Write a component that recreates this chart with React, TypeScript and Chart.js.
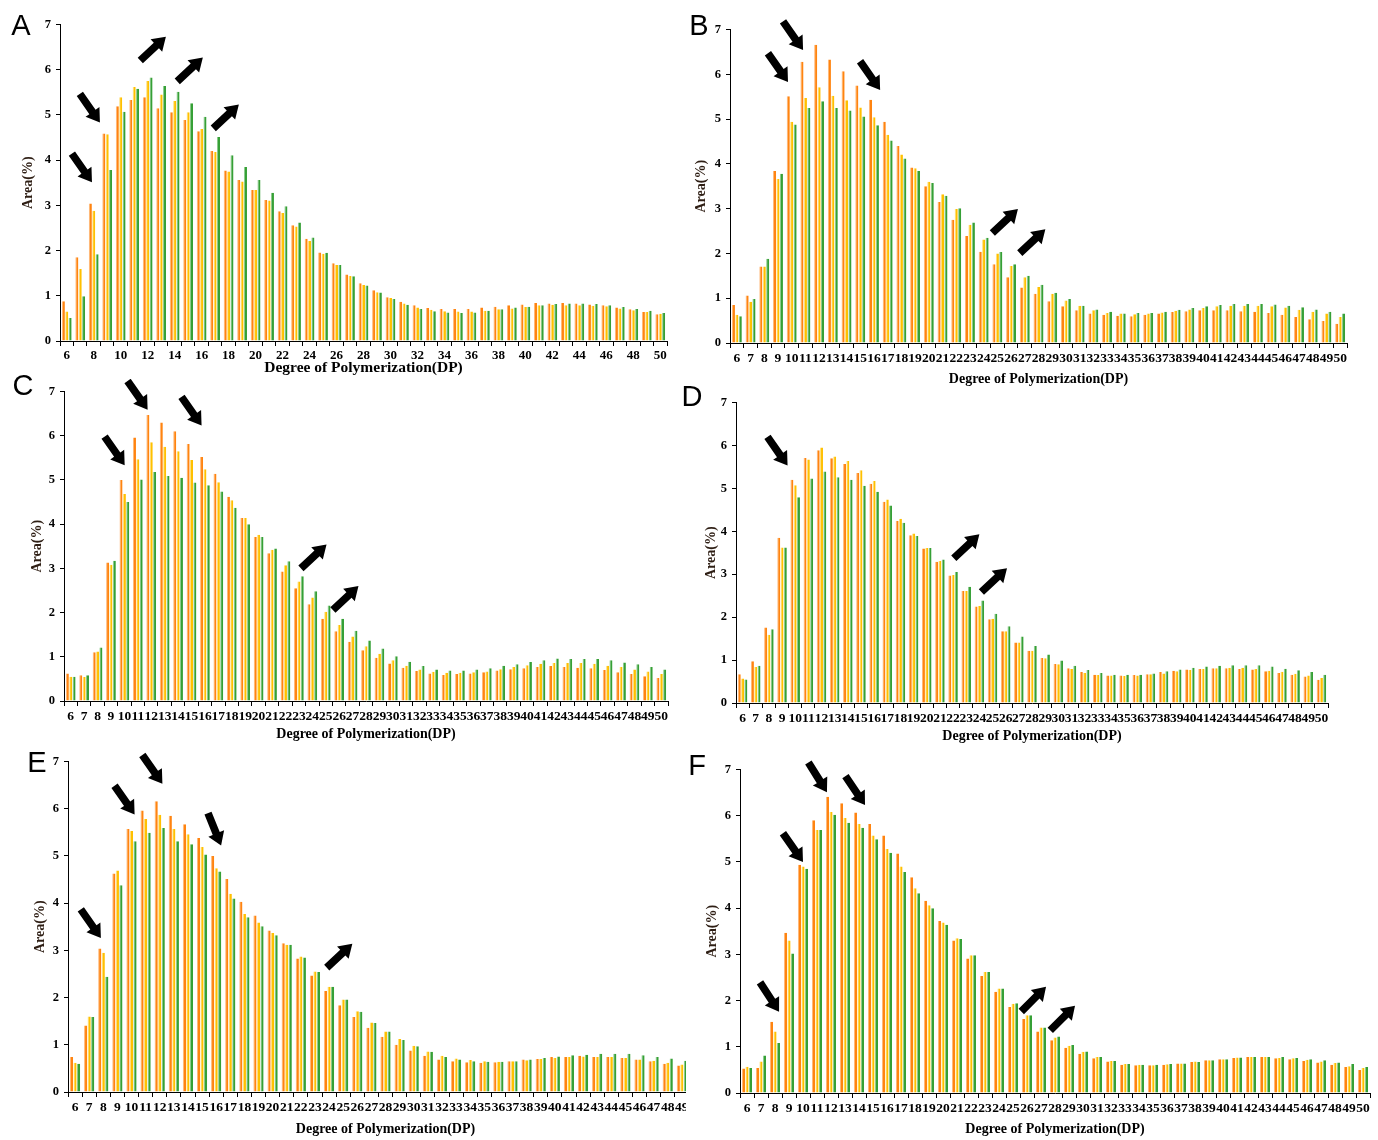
import React, { useEffect, useRef } from 'react';
import { Chart, registerables } from 'chart.js';

Chart.register(...registerables);

const dpLabels = ['6','7','8','9','10','11','12','13','14','15','16','17','18','19','20','21','22','23','24','25','26','27','28','29','30','31','32','33','34','35','36','37','38','39','40','41','42','43','44','45','46','47','48','49','50'];

const A_orange = [0.88,1.85,3.04,4.59,5.19,5.33,5.39,5.15,5.06,4.89,4.64,4.20,3.77,3.56,3.34,3.12,2.87,2.56,2.26,1.96,1.72,1.47,1.28,1.12,0.97,0.87,0.79,0.73,0.71,0.71,0.71,0.74,0.76,0.79,0.81,0.84,0.83,0.84,0.83,0.81,0.79,0.74,0.70,0.64,0.59];
const A_yellow = [0.65,1.59,2.88,4.57,5.39,5.62,5.75,5.45,5.31,5.06,4.69,4.18,3.75,3.53,3.34,3.11,2.83,2.53,2.21,1.93,1.68,1.44,1.24,1.08,0.95,0.83,0.74,0.69,0.66,0.65,0.65,0.67,0.70,0.72,0.75,0.79,0.80,0.79,0.79,0.78,0.77,0.72,0.68,0.64,0.60];
const A_green = [0.51,0.99,1.92,3.78,5.07,5.58,5.83,5.64,5.51,5.26,4.96,4.51,4.11,3.85,3.56,3.28,2.98,2.62,2.29,1.95,1.68,1.43,1.23,1.07,0.93,0.80,0.71,0.66,0.63,0.62,0.63,0.67,0.70,0.74,0.76,0.79,0.82,0.83,0.83,0.82,0.79,0.75,0.71,0.67,0.62];

const B_orange = [0.85,1.06,1.71,3.84,5.51,6.28,6.66,6.33,6.07,5.75,5.43,4.94,4.40,3.92,3.50,3.15,2.75,2.39,2.04,1.76,1.47,1.24,1.10,0.93,0.82,0.73,0.66,0.63,0.61,0.60,0.63,0.66,0.69,0.71,0.73,0.73,0.73,0.71,0.70,0.67,0.63,0.58,0.53,0.49,0.43];
const B_yellow = [0.63,0.92,1.71,3.66,4.94,5.47,5.71,5.52,5.42,5.26,5.04,4.65,4.21,3.90,3.60,3.32,2.99,2.64,2.31,2.00,1.72,1.47,1.25,1.10,0.95,0.83,0.73,0.67,0.66,0.64,0.66,0.68,0.72,0.75,0.78,0.82,0.83,0.83,0.83,0.82,0.79,0.74,0.70,0.66,0.58];
const B_green = [0.60,0.98,1.88,3.78,4.88,5.25,5.40,5.25,5.19,5.06,4.86,4.52,4.12,3.84,3.57,3.29,3.01,2.69,2.35,2.03,1.76,1.50,1.30,1.12,0.98,0.83,0.75,0.70,0.66,0.67,0.67,0.70,0.74,0.78,0.82,0.85,0.87,0.87,0.87,0.86,0.83,0.80,0.75,0.70,0.66];

const C_orange = [0.62,0.58,1.10,3.13,5.00,5.96,6.47,6.30,6.10,5.81,5.52,5.14,4.62,4.14,3.71,3.34,2.93,2.55,2.19,1.86,1.58,1.34,1.15,0.98,0.85,0.75,0.68,0.62,0.59,0.61,0.62,0.65,0.69,0.72,0.74,0.77,0.79,0.77,0.75,0.74,0.70,0.65,0.61,0.56,0.52];
const C_yellow = [0.55,0.54,1.12,3.08,4.68,5.47,5.85,5.75,5.65,5.45,5.24,4.95,4.54,4.14,3.76,3.42,3.07,2.70,2.34,2.02,1.72,1.46,1.24,1.07,0.92,0.80,0.71,0.66,0.64,0.64,0.65,0.67,0.72,0.77,0.81,0.84,0.86,0.86,0.86,0.84,0.80,0.77,0.71,0.67,0.61];
const C_green = [0.55,0.58,1.21,3.17,4.50,5.01,5.18,5.09,5.05,4.94,4.88,4.74,4.37,4.00,3.71,3.45,3.16,2.82,2.48,2.16,1.86,1.59,1.37,1.19,1.01,0.89,0.79,0.71,0.69,0.69,0.71,0.74,0.80,0.83,0.88,0.92,0.96,0.95,0.95,0.95,0.92,0.87,0.83,0.77,0.71];

const D_orange = [0.67,0.97,1.76,3.85,5.20,5.71,5.89,5.70,5.57,5.36,5.11,4.69,4.24,3.91,3.60,3.29,2.97,2.61,2.25,1.95,1.67,1.41,1.22,1.05,0.91,0.81,0.72,0.66,0.64,0.64,0.65,0.67,0.72,0.75,0.78,0.79,0.81,0.81,0.79,0.78,0.74,0.70,0.66,0.62,0.54];
const D_yellow = [0.57,0.84,1.59,3.62,5.07,5.67,5.95,5.74,5.64,5.42,5.17,4.74,4.29,3.95,3.61,3.31,2.98,2.61,2.26,1.96,1.67,1.41,1.22,1.04,0.90,0.79,0.70,0.65,0.64,0.63,0.64,0.67,0.69,0.74,0.77,0.79,0.81,0.82,0.82,0.79,0.75,0.73,0.68,0.64,0.58];
const D_green = [0.55,0.87,1.72,3.62,4.79,5.23,5.39,5.26,5.20,5.06,4.92,4.60,4.20,3.89,3.61,3.34,3.05,2.71,2.39,2.08,1.79,1.55,1.33,1.13,0.99,0.87,0.77,0.70,0.66,0.66,0.66,0.69,0.74,0.78,0.82,0.85,0.87,0.88,0.88,0.88,0.85,0.80,0.76,0.72,0.66];

const E_orange = [0.74,1.41,3.04,4.63,5.57,5.96,6.16,5.85,5.67,5.38,5.00,4.51,4.03,3.74,3.42,3.15,2.83,2.47,2.14,1.84,1.59,1.36,1.17,1.00,0.88,0.77,0.69,0.65,0.63,0.62,0.63,0.65,0.69,0.70,0.74,0.74,0.77,0.74,0.74,0.72,0.69,0.65,0.60,0.56,0.52];
const E_yellow = [0.62,1.60,2.95,4.69,5.53,5.78,5.87,5.57,5.46,5.19,4.74,4.20,3.77,3.59,3.37,3.12,2.87,2.55,2.23,1.96,1.71,1.47,1.28,1.12,0.98,0.86,0.77,0.71,0.68,0.65,0.64,0.65,0.67,0.70,0.72,0.74,0.75,0.74,0.74,0.72,0.69,0.66,0.62,0.58,0.55];
const E_green = [0.60,1.59,2.44,4.38,5.31,5.49,5.59,5.31,5.25,5.03,4.67,4.10,3.70,3.51,3.32,3.12,2.85,2.54,2.23,1.96,1.70,1.46,1.28,1.10,0.97,0.85,0.74,0.69,0.65,0.64,0.64,0.65,0.69,0.72,0.75,0.78,0.79,0.81,0.81,0.81,0.78,0.74,0.71,0.66,0.62];

const F_orange = [0.53,0.54,1.54,3.47,4.94,5.90,6.41,6.27,6.07,5.82,5.57,5.18,4.67,4.16,3.72,3.30,2.91,2.53,2.19,1.86,1.60,1.33,1.14,0.98,0.85,0.75,0.68,0.61,0.60,0.60,0.61,0.64,0.67,0.71,0.73,0.76,0.78,0.78,0.75,0.73,0.69,0.66,0.61,0.56,0.50];
const F_yellow = [0.57,0.68,1.33,3.30,4.90,5.69,6.08,5.95,5.82,5.57,5.28,4.90,4.43,4.06,3.69,3.35,2.98,2.62,2.26,1.93,1.68,1.42,1.20,1.02,0.89,0.78,0.69,0.63,0.61,0.60,0.62,0.64,0.68,0.71,0.73,0.77,0.78,0.78,0.76,0.75,0.72,0.68,0.65,0.58,0.54];
const F_green = [0.54,0.81,1.08,3.02,4.85,5.69,6.02,5.85,5.74,5.49,5.20,4.78,4.32,4.00,3.64,3.33,2.98,2.62,2.26,1.94,1.68,1.42,1.22,1.04,0.90,0.78,0.69,0.63,0.61,0.61,0.63,0.64,0.67,0.71,0.73,0.77,0.78,0.78,0.78,0.76,0.73,0.71,0.66,0.63,0.56];

// arrow annotations: [DP at arrow tip, Area at arrow tip, pointing angle in degrees]
const A_arrows = [[7.87,3.51,55],[8.46,4.83,55],[13.35,6.73,-43],[16.09,6.27,-43],[18.76,5.23,-43]];
const B_arrows = [[9.73,5.83,55],[10.83,6.54,55],[16.45,5.65,55],[26.5,2.99,-43],[28.5,2.54,-43]];
const C_arrows = [[10.02,5.33,55],[11.73,6.59,55],[15.75,6.23,55],[25.06,3.54,-43],[27.44,2.60,-43]];
const D_arrows = [[9.42,5.53,55],[24.0,3.93,-43],[26.1,3.14,-43]];
const E_arrows = [[7.83,3.26,55],[10.22,5.88,55],[12.19,6.53,55],[16.35,5.22,68],[25.65,3.14,-43]];
const F_arrows = [[8.29,1.76,57],[10.0,5.0,55],[11.71,6.51,58],[14.43,6.23,56],[27.36,2.30,-45],[29.43,1.89,-45]];

const SERIF = "'Liberation Serif', 'Times New Roman', serif";
const PAD_TOP = 12;
const PAD_RIGHT = 6;

type PanelCfg = {
  letter: string; L: number; R: number; T: number; B: number; wy: number; hx: number;
  xTick: number; xTitle: number; every: number; clipRight?: number;
  orange: number[]; yellow: number[]; green: number[]; arrows: number[][];
  lx: number; ly: number;
};

const panels: PanelCfg[] = [
  { letter: 'A', L: 60, R: 667, T: 24, B: 341, wy: 44, hx: 40, xTick: 13, xTitle: 15.5, every: 2, orange: A_orange, yellow: A_yellow, green: A_green, arrows: A_arrows, lx: 21, ly: 25 },
  { letter: 'B', L: 730, R: 1347, T: 29, B: 343, wy: 41, hx: 49, xTick: 13.5, xTitle: 14, every: 1, orange: B_orange, yellow: B_yellow, green: B_green, arrows: B_arrows, lx: 699, ly: 25 },
  { letter: 'C', L: 64, R: 668, T: 391, B: 701, wy: 39, hx: 46, xTick: 13.5, xTitle: 14, every: 1, orange: C_orange, yellow: C_yellow, green: C_green, arrows: C_arrows, lx: 23, ly: 385 },
  { letter: 'D', L: 736, R: 1328, T: 402, B: 703, wy: 37, hx: 46, xTick: 13.5, xTitle: 14, every: 1, orange: D_orange, yellow: D_yellow, green: D_green, arrows: D_arrows, lx: 692, ly: 396 },
  { letter: 'E', L: 68, R: 703, T: 761, B: 1092, wy: 40, hx: 50, xTick: 13.5, xTitle: 14, every: 1, clipRight: 686, orange: E_orange, yellow: E_yellow, green: E_green, arrows: E_arrows, lx: 37, ly: 762 },
  { letter: 'F', L: 740, R: 1370, T: 769, B: 1093, wy: 40, hx: 49, xTick: 13.5, xTitle: 14, every: 1, orange: F_orange, yellow: F_yellow, green: F_green, arrows: F_arrows, lx: 697, ly: 765 },
];

function Panel({ cfg }: { cfg: PanelCfg }) {
  const ref = useRef<HTMLCanvasElement>(null);
  useEffect(() => {
    if (!ref.current) return;
    const arrows = cfg.arrows;
    const arrowPlugin = {
      id: 'arrows' + cfg.letter,
      afterDatasetsDraw(chart: any) {
        const ctx = chart.ctx;
        const xs = chart.scales.x, ys = chart.scales.y;
        ctx.save();
        ctx.fillStyle = '#000';
        for (const [dp, v, ang] of arrows) {
          const tx = xs.getPixelForValue(dp - 6);
          const ty = ys.getPixelForValue(v);
          const a = (ang * Math.PI) / 180;
          const ux = Math.cos(a), uy = Math.sin(a);
          const px = -uy, py = ux;
          const len = 35, headL = 13, headW = 8.5, shaftW = 3.8;
          const bx = tx - ux * headL, by = ty - uy * headL;
          const sx = tx - ux * len, sy = ty - uy * len;
          ctx.beginPath();
          ctx.moveTo(sx + px * shaftW, sy + py * shaftW);
          ctx.lineTo(bx + px * shaftW, by + py * shaftW);
          ctx.lineTo(bx + px * headW, by + py * headW);
          ctx.lineTo(tx, ty);
          ctx.lineTo(bx - px * headW, by - py * headW);
          ctx.lineTo(bx - px * shaftW, by - py * shaftW);
          ctx.lineTo(sx - px * shaftW, sy - py * shaftW);
          ctx.closePath();
          ctx.fill();
        }
        ctx.restore();
      },
    };
    const every = cfg.every;
    const ds = (label: string, data: number[], fill: string, edge: string) => ({
      label, data, backgroundColor: fill, borderColor: edge,
      borderWidth: { left: 1, right: 0, top: 0, bottom: 0 }, borderSkipped: false,
      categoryPercentage: 0.75, barPercentage: 0.9,
    });
    const chart = new Chart(ref.current, {
      type: 'bar',
      data: {
        labels: dpLabels,
        datasets: [
          ds('S1', cfg.orange, '#FF8410', '#FFB878'),
          ds('S2', cfg.yellow, '#FFC000', '#FFE07A'),
          ds('S3', cfg.green, '#36A036', '#8DCB8D'),
        ] as any,
      },
      options: {
        animation: false,
        responsive: true,
        maintainAspectRatio: false,
        layout: { padding: { top: PAD_TOP, right: PAD_RIGHT, left: 0, bottom: 0 } },
        plugins: { legend: { display: false }, tooltip: { enabled: false } },
        scales: {
          x: {
            afterFit: (s: any) => { s.height = cfg.hx; },
            grid: { display: true, drawOnChartArea: false, drawTicks: true, tickLength: 5, color: '#000', lineWidth: 1 },
            border: { display: true, color: '#000', width: 1 },
            ticks: {
              autoSkip: false, maxRotation: 0, minRotation: 0, padding: 2, color: '#000',
              font: { family: SERIF, size: cfg.xTick, weight: 'bold' },
              callback: function (this: any, value: any, index: number) {
                return index % every === 0 ? dpLabels[index] : '';
              },
            },
            title: {
              display: true, text: 'Degree of Polymerization(DP)', color: '#000',
              font: { family: SERIF, size: cfg.xTitle, weight: 'bold' }, padding: { top: 4, bottom: 4 },
            },
          },
          y: {
            min: 0, max: 7,
            afterFit: (s: any) => { s.width = cfg.wy; },
            grid: { display: true, drawOnChartArea: false, drawTicks: true, tickLength: 4, color: '#000', lineWidth: 1 },
            border: { display: true, color: '#000', width: 1 },
            ticks: { stepSize: 1, padding: 5, color: '#000', font: { family: SERIF, size: 12.5, weight: 'bold' } },
            title: {
              display: true, text: 'Area(%)', color: '#2e1e14',
              font: { family: SERIF, size: 14, weight: 'bold' }, padding: { top: 4, bottom: 4 },
            },
          },
        },
      } as any,
      plugins: [arrowPlugin as any],
    });
    return () => chart.destroy();
  }, [cfg]);

  const left = cfg.L - cfg.wy;
  const top = cfg.T - PAD_TOP;
  const width = cfg.wy + (cfg.R - cfg.L) + PAD_RIGHT;
  const height = PAD_TOP + (cfg.B - cfg.T) + cfg.hx;
  const outerW = cfg.clipRight ? cfg.clipRight - left : width;
  return (
    <>
      <div style={{ position: 'absolute', left, top, width: outerW, height, overflow: 'hidden' }}>
        <div style={{ position: 'relative', width, height }}>
          <canvas ref={ref} />
        </div>
      </div>
      <div style={{
        position: 'absolute', left: cfg.lx, top: cfg.ly, transform: 'translate(-50%, -50%)',
        fontFamily: "'Liberation Sans', Arial, sans-serif", fontSize: 29, lineHeight: '29px', color: '#000',
      }}>{cfg.letter}</div>
    </>
  );
}

export default function App() {
  return (
    <div style={{ position: 'absolute', left: 0, top: 0, width: 1378, height: 1140, background: '#fff', overflow: 'hidden' }}>
      {panels.map((p) => <Panel key={p.letter} cfg={p} />)}
    </div>
  );
}
